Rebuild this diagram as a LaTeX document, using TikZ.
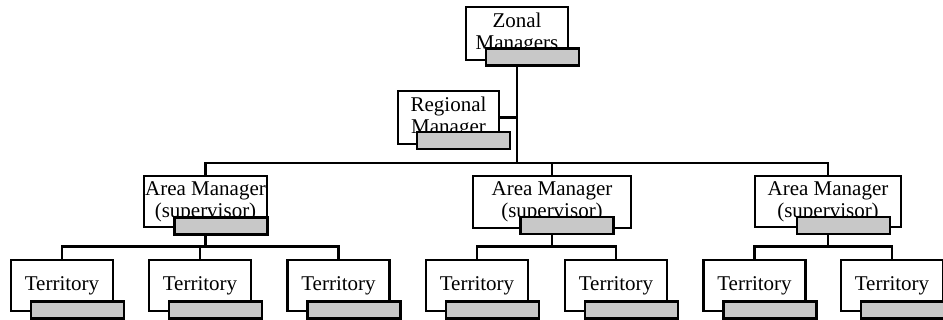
\documentclass[tikz,border=0pt]{standalone}
\usepackage{fontspec}
\setmainfont{Liberation Serif}
\usetikzlibrary{backgrounds}
\definecolor{bargray}{RGB}{200,200,200}
\begin{document}
\begin{tikzpicture}[x=1pt,y=-1pt,
  box/.style={draw=black,line width=2.4pt,fill=white,rectangle,inner sep=0pt,align=center,font=\fontsize{21}{22}\selectfont},
  bar/.style={draw=black,line width=2.8pt,fill=bargray,rectangle,inner sep=0pt,minimum height=17pt,minimum width=93pt},
  link/.style={draw=black,line width=2.5pt}]
\useasboundingbox (0,0) rectangle (943,320);
% managers
\node[box,minimum width=102pt,minimum height=53pt] (zonal) at (517,33.5) {Zonal\\Managers};
\node[bar] (zonalbar) at (532.5,57) {};
\node[box,minimum width=101pt,minimum height=53pt] (regional) at (448.5,117.5) {Regional\\Manager};
\node[bar] (regionalbar) at (463.5,140.5) {};
% area managers
\node[box,minimum width=123pt,minimum height=51pt] (areaL) at (205.5,201.5) {Area Manager\\(supervisor)};
\node[bar] (areaLbar) at (221,226) {};
\node[box,minimum width=158pt,minimum height=52pt] (areaM) at (552,202) {Area Manager\\(supervisor)};
\node[bar] (areaMbar) at (567,225.5) {};
\node[box,minimum width=146pt,minimum height=51pt] (areaR) at (828,201.5) {Area Manager\\(supervisor)};
\node[bar] (areaRbar) at (843.5,225.5) {};
% territories
\foreach \n/\cx in {t1/62,t2/200,t3/338.5,t4/477,t5/616,t6/754.5,t7/892}{
  \node[box,minimum width=102pt,minimum height=51pt] (\n) at (\cx,285.5) {Territory};
  \node[bar,minimum height=17pt] (\n bar) at (\cx+15.5,310) {};
}
% bus points
\coordinate (busA) at (517,163);
\coordinate (busL) at (areaL.center |- 0,246.5);
\coordinate (busM) at (areaM.center |- 0,246.5);
\coordinate (busR) at (areaR.center |- 0,246.5);
\begin{pgfonlayer}{background}
  \draw[link] (zonal.center) -- (zonal.center |- busA);
  \draw[link] (regional.center) -- (regional.center -| zonal.center);
  \draw[link] (areaL.center) |- (busA) -| (areaR.center);
  \draw[link] (areaM.center) -- (areaM.center |- busA);
  \draw[link] (areaL.center) -- (busL);
  \draw[link] (t1.center) |- (busL) -| (t3.center);
  \draw[link] (t2.center) -- (t2.center |- busL);
  \draw[link] (areaM.center) -- (busM);
  \draw[link] (t4.center) |- (busM) -| (t5.center);
  \draw[link] (areaR.center) -- (busR);
  \draw[link] (t6.center) |- (busR) -| (t7.center);
\end{pgfonlayer}
\end{tikzpicture}
\end{document}
